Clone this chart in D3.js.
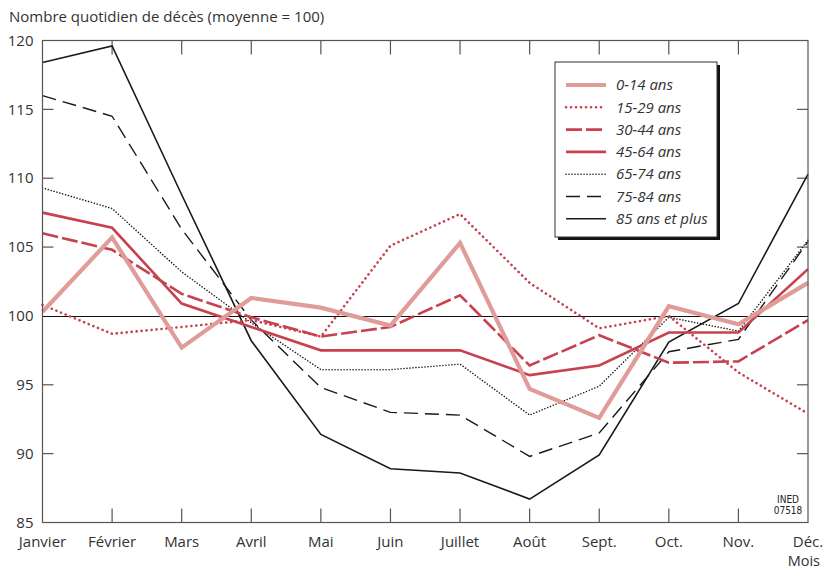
<!DOCTYPE html>
<html>
<head>
<meta charset="utf-8">
<script src="https://cdn.jsdelivr.net/npm/d3@7"></script>
<style>
  body { margin: 0; background: #fff; }
  svg { display: block; font-family: "Open Sans", "Noto Sans", sans-serif; }
</style>
</head>
<body>
<div id="chart"></div>
<script>
// months on the x axis
var months = ["Janvier", "Février", "Mars", "Avril", "Mai", "Juin", "Juillet", "Août", "Sept.", "Oct.", "Nov.", "Déc."];
var yTicks = [85, 90, 95, 100, 105, 110, 115, 120];

// daily deaths index (mean = 100) by age group
var age0_14  = [100.3, 105.7, 97.7, 101.3, 100.6, 99.3, 105.3, 94.7, 92.6, 100.7, 99.4, 102.4];
var age15_29 = [100.8, 98.7, 99.2, 99.7, 98.5, 105.1, 107.4, 102.4, 99.1, 100.0, 95.9, 92.9];
var age30_44 = [106.0, 104.8, 101.6, 99.9, 98.5, 99.2, 101.5, 96.4, 98.6, 96.6, 96.7, 99.7];
var age45_64 = [107.5, 106.4, 100.9, 99.2, 97.5, 97.5, 97.5, 95.7, 96.4, 98.8, 98.8, 103.4];
var age65_74 = [109.3, 107.8, 103.2, 99.5, 96.1, 96.1, 96.5, 92.8, 94.9, 99.9, 98.9, 105.5];
var age75_84 = [116.0, 114.5, 106.3, 99.7, 94.8, 93.0, 92.8, 89.8, 91.5, 97.4, 98.3, 105.4];
var age85    = [118.4, 119.6, 108.8, 98.2, 91.4, 88.9, 88.6, 86.7, 89.9, 98.1, 100.9, 110.3];

var series = [
  {name: "0-14 ans", values: age0_14, color: "#e09c98", width: 4.2, dash: null, cap: "butt"},
  {name: "15-29 ans", values: age15_29, color: "#c8414f", width: 2.6, dash: "0.1,4.9", cap: "round"},
  {name: "30-44 ans", values: age30_44, color: "#c8414f", width: 2.6, dash: "16,4", cap: "butt"},
  {name: "45-64 ans", values: age45_64, color: "#c8414f", width: 2.6, dash: null, cap: "butt"},
  {name: "65-74 ans", values: age65_74, color: "#1a1a1a", width: 1.5, dash: "0.1,2.9", cap: "round"},
  {name: "75-84 ans", values: age75_84, color: "#1a1a1a", width: 1.4, dash: "14,7", cap: "butt"},
  {name: "85 ans et plus", values: age85, color: "#1a1a1a", width: 1.6, dash: null, cap: "butt"}
];

var W = 823, H = 569;
var margin = {top: 40.5, right: 15, bottom: 46.5, left: 42.5},
  width = W - margin.left - margin.right,
  height = H - margin.top - margin.bottom;

var svg = d3.select("#chart").append("svg")
  .attr("width", W)
  .attr("height", H);

var g = svg.append("g")
  .attr("transform", "translate(" + margin.left + "," + margin.top + ")");

var x = d3.scalePoint()
  .domain(months)
  .range([0, width]);

var y = d3.scaleLinear()
  .domain([85, 120])
  .range([height, 0]);

// title
svg.append("text")
  .attr("x", 9)
  .attr("y", 22)
  .style("font-size", "15px")
  .style("fill", "#333")
  .text("Nombre quotidien de décès (moyenne = 100)");

// reference line at 100
g.append("line")
  .attr("x1", 0).attr("x2", width)
  .attr("y1", Math.round(y(100) + 40.5) - 40.5 + 0.5).attr("y2", Math.round(y(100) + 40.5) - 40.5 + 0.5)
  .attr("stroke", "#111")
  .attr("stroke-width", 1);

// inner ticks on the four sides
var innerMonths = months.slice(1, months.length - 1);
var innerY = [90, 95, 105, 110, 115];

g.selectAll(".tickTop").data(innerMonths).enter().append("line")
  .attr("x1", function (d) { return x(d); }).attr("x2", function (d) { return x(d); })
  .attr("y1", 0).attr("y2", 14)
  .attr("stroke", "#555").attr("stroke-width", 1.2);

g.selectAll(".tickBottom").data(innerMonths).enter().append("line")
  .attr("x1", function (d) { return x(d); }).attr("x2", function (d) { return x(d); })
  .attr("y1", height).attr("y2", height - 14)
  .attr("stroke", "#555").attr("stroke-width", 1.2);

g.selectAll(".tickLeft").data(innerY).enter().append("line")
  .attr("x1", 0).attr("x2", 11)
  .attr("y1", function (d) { return y(d); }).attr("y2", function (d) { return y(d); })
  .attr("stroke", "#555").attr("stroke-width", 1.2);

g.selectAll(".tickRight").data(innerY).enter().append("line")
  .attr("x1", width).attr("x2", width - 11)
  .attr("y1", function (d) { return y(d); }).attr("y2", function (d) { return y(d); })
  .attr("stroke", "#555").attr("stroke-width", 1.2);

// the lines
var line = d3.line()
  .x(function (d, i) { return x(months[i]); })
  .y(function (d) { return y(d); });

var plot = g.append("g");
series.slice().reverse().forEach(function (s) {
  plot.append("path")
    .datum(s.values)
    .attr("fill", "none")
    .attr("stroke", s.color)
    .attr("stroke-width", s.width)
    .attr("stroke-linejoin", "miter")
    .attr("stroke-linecap", s.cap)
    .attr("stroke-dasharray", s.dash)
    .attr("d", line);
});

// frame
g.append("rect")
  .attr("x", 0).attr("y", 0)
  .attr("width", width).attr("height", height)
  .attr("fill", "none")
  .attr("stroke", "#555")
  .attr("stroke-width", 1.2);

// y labels
g.selectAll(".ylab").data(yTicks).enter().append("text")
  .attr("x", -9)
  .attr("y", function (d) { return y(d); })
  .attr("dy", "0.35em")
  .attr("text-anchor", "end")
  .style("font-size", "15px")
  .style("fill", "#333")
  .text(function (d) { return d; });

// x labels
g.selectAll(".xlab").data(months).enter().append("text")
  .attr("x", function (d) { return x(d); })
  .attr("y", height + 24)
  .attr("text-anchor", "middle")
  .style("font-size", "15px")
  .style("fill", "#333")
  .text(function (d) { return d; });

g.append("text")
  .attr("x", width + 12)
  .attr("y", height + 43)
  .attr("text-anchor", "end")
  .style("font-size", "14.5px")
  .style("fill", "#333")
  .text("Mois");

// INED code
g.append("text")
  .attr("x", width - 20)
  .attr("y", height - 20)
  .attr("text-anchor", "middle")
  .style("font-size", "10px")
  .style("font-family", "'Liberation Sans Narrow', 'DejaVu Sans Condensed', sans-serif")
  .style("fill", "#222")
  .text("INED");
g.append("text")
  .attr("x", width - 20)
  .attr("y", height - 8.5)
  .attr("text-anchor", "middle")
  .style("font-size", "10px")
  .style("font-family", "'Liberation Sans Narrow', 'DejaVu Sans Condensed', sans-serif")
  .style("fill", "#222")
  .text("07518");

// legend
var lx = 555, ly = 62, lw = 162, lh = 175;
svg.append("rect")
  .attr("x", lx + 3).attr("y", ly + 3)
  .attr("width", lw).attr("height", lh)
  .attr("fill", "#111");
svg.append("rect")
  .attr("x", lx).attr("y", ly)
  .attr("width", lw).attr("height", lh)
  .attr("fill", "#fff")
  .attr("stroke", "#333")
  .attr("stroke-width", 1);

var leg = svg.selectAll(".leg").data(series).enter().append("g")
  .attr("transform", function (d, i) { return "translate(" + (lx + 11) + "," + (ly + 23 + i * 22.3) + ")"; });

leg.append("line")
  .attr("x1", 0).attr("x2", 40)
  .attr("y1", 0).attr("y2", 0)
  .attr("stroke", function (d) { return d.color; })
  .attr("stroke-width", function (d) { return d.width; })
  .attr("stroke-linecap", function (d) { return d.cap; })
  .attr("stroke-dasharray", function (d) { return d.dash; });

leg.append("text")
  .attr("x", 50)
  .attr("y", 0)
  .attr("dy", "0.35em")
  .style("font-size", "15px")
  .style("font-style", "italic")
  .style("fill", "#333")
  .text(function (d) { return d.name; });
</script>
</body>
</html>
